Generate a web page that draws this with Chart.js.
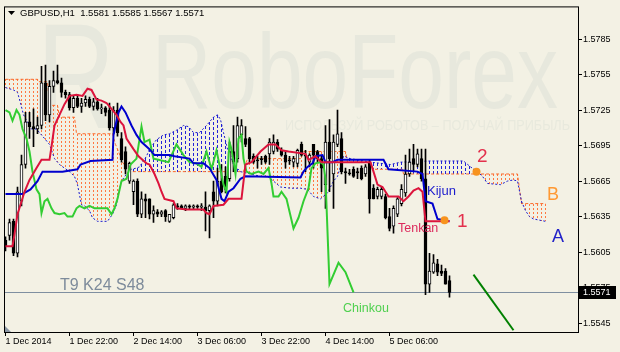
<!DOCTYPE html>
<html lang="ko">

<head>
  <meta charset="UTF-8">
  <title>GBPUSD H1 Ichimoku</title>
  <style>
    html,
    body {
      margin: 0;
      padding: 0;
      background: #f3f1e4;
    }

    #chartWrap {
      width: 620px;
      height: 352px;
    }
  </style>
</head>

<body>
  <div id="chartWrap">
    <canvas id="chartIchimoku" width="620" height="352"></canvas>
  </div>

  <script src="https://cdn.jsdelivr.net/npm/chart.js@4.4.1/dist/chart.umd.min.js"></script>
  <script>
    // 캔들 데이터 (GBPUSD, H1) - 봉 번호 0 ~ 111
    const opens = [
      1.5615, 1.5619, 1.5631, 1.5604, 1.5648, 1.5679, 1.5715, 1.5711, 1.5709, 1.5712,
      1.5748, 1.5721, 1.5745, 1.5750, 1.5748, 1.5740, 1.5738, 1.5727, 1.5735, 1.5728,
      1.5731, 1.5734, 1.5728, 1.5732, 1.5726, 1.5727, 1.5725, 1.5710, 1.5725, 1.5701,
      1.5690, 1.5665, 1.5656, 1.5665, 1.5637, 1.5650, 1.5650, 1.5637, 1.5639, 1.5637,
      1.5640, 1.5631, 1.5634, 1.5644, 1.5644, 1.5642, 1.5644, 1.5643, 1.5644, 1.5643,
      1.5643, 1.5640, 1.5656, 1.5648, 1.5665, 1.5669, 1.5667, 1.5690, 1.5684, 1.5704,
      1.5701, 1.5701, 1.5686, 1.5683, 1.5684, 1.5686, 1.5688, 1.5690, 1.5698, 1.5691,
      1.5687, 1.5683, 1.5681, 1.5680, 1.5696, 1.5687, 1.5681, 1.5696, 1.5690, 1.5684,
      1.5662, 1.5698, 1.5671, 1.5696, 1.5701, 1.5673, 1.5672, 1.5675, 1.5673, 1.5676,
      1.5671, 1.5681, 1.5659, 1.5652, 1.5652, 1.5652, 1.5635, 1.5627, 1.5637, 1.5646,
      1.5655, 1.5671, 1.5684, 1.5679, 1.5684, 1.5667, 1.5578, 1.5588, 1.5595, 1.5589,
      1.5589, 1.5581
    ];
    const highs = [
      1.5618, 1.5633, 1.5633, 1.5660, 1.5687, 1.5723, 1.5723, 1.5726, 1.5719, 1.5762,
      1.5763, 1.5750, 1.5758, 1.5763, 1.5752, 1.5742, 1.5740, 1.5737, 1.5738, 1.5735,
      1.5737, 1.5736, 1.5735, 1.5735, 1.5730, 1.5728, 1.5731, 1.5728, 1.5731, 1.5706,
      1.5694, 1.5681, 1.5666, 1.5667, 1.5656, 1.5654, 1.5650, 1.5644, 1.5641, 1.5640,
      1.5641, 1.5637, 1.5646, 1.5646, 1.5645, 1.5645, 1.5645, 1.5645, 1.5645, 1.5646,
      1.5656, 1.5645, 1.5665, 1.5676, 1.5679, 1.5677, 1.5698, 1.5712, 1.5719, 1.5717,
      1.5711, 1.5702, 1.5688, 1.5686, 1.5686, 1.5687, 1.5701, 1.5704, 1.5700, 1.5693,
      1.5690, 1.5686, 1.5686, 1.5692, 1.5698, 1.5691, 1.5688, 1.5696, 1.5691, 1.5687,
      1.5712, 1.5717, 1.5704, 1.5725, 1.5706, 1.5676, 1.5675, 1.5677, 1.5676, 1.5678,
      1.5679, 1.5683, 1.5662, 1.5660, 1.5660, 1.5654, 1.5642, 1.5644, 1.5651, 1.5662,
      1.5687, 1.5692, 1.5696, 1.5692, 1.5692, 1.5692, 1.5604, 1.5603, 1.5599, 1.5594,
      1.5591, 1.5585
    ];
    const lows = [
      1.5606, 1.5615, 1.5602, 1.5601, 1.5644, 1.5676, 1.5701, 1.5694, 1.5705, 1.5709,
      1.5716, 1.5715, 1.5740, 1.5747, 1.5736, 1.5735, 1.5725, 1.5723, 1.5727, 1.5723,
      1.5728, 1.5727, 1.5725, 1.5725, 1.5722, 1.5720, 1.5708, 1.5705, 1.5703, 1.5681,
      1.5671, 1.5663, 1.5645, 1.5635, 1.5634, 1.5634, 1.5633, 1.5630, 1.5635, 1.5635,
      1.5631, 1.5630, 1.5633, 1.5641, 1.5642, 1.5640, 1.5641, 1.5641, 1.5642, 1.5640,
      1.5623, 1.5617, 1.5634, 1.5644, 1.5655, 1.5655, 1.5665, 1.5673, 1.5681, 1.5698,
      1.5694, 1.5681, 1.5680, 1.5676, 1.5679, 1.5680, 1.5679, 1.5688, 1.5690, 1.5686,
      1.5676, 1.5679, 1.5677, 1.5677, 1.5686, 1.5673, 1.5677, 1.5676, 1.5681, 1.5656,
      1.5642, 1.5656, 1.5642, 1.5694, 1.5671, 1.5663, 1.5670, 1.5668, 1.5667, 1.5666,
      1.5669, 1.5638, 1.5650, 1.5650, 1.5650, 1.5633, 1.5623, 1.5621, 1.5635, 1.5644,
      1.5652, 1.5669, 1.5673, 1.5677, 1.5665, 1.5569, 1.5571, 1.5587, 1.5585, 1.5585,
      1.5578, 1.5567
    ];
    const closes = [
      1.5610, 1.5630, 1.5604, 1.5656, 1.5679, 1.5715, 1.5711, 1.5709, 1.5712, 1.5748,
      1.5721, 1.5745, 1.5750, 1.5748, 1.5740, 1.5738, 1.5727, 1.5735, 1.5728, 1.5731,
      1.5734, 1.5728, 1.5732, 1.5726, 1.5727, 1.5723, 1.5710, 1.5725, 1.5706, 1.5683,
      1.5675, 1.5680, 1.5665, 1.5637, 1.5650, 1.5648, 1.5637, 1.5640, 1.5637, 1.5639,
      1.5635, 1.5637, 1.5645, 1.5643, 1.5642, 1.5644, 1.5643, 1.5644, 1.5643, 1.5644,
      1.5640, 1.5644, 1.5648, 1.5665, 1.5656, 1.5658, 1.5690, 1.5681, 1.5712, 1.5712,
      1.5696, 1.5684, 1.5681, 1.5682, 1.5683, 1.5681, 1.5698, 1.5698, 1.5692, 1.5687,
      1.5681, 1.5682, 1.5684, 1.5691, 1.5687, 1.5686, 1.5687, 1.5687, 1.5684, 1.5676,
      1.5698, 1.5684, 1.5698, 1.5705, 1.5673, 1.5672, 1.5671, 1.5669, 1.5672, 1.5667,
      1.5677, 1.5650, 1.5650, 1.5658, 1.5658, 1.5634, 1.5625, 1.5642, 1.5650, 1.5658,
      1.5671, 1.5681, 1.5679, 1.5688, 1.5667, 1.5578, 1.5589, 1.5596, 1.5588, 1.5587,
      1.5578, 1.5571
    ];

    // 텐칸선 (x: 봉 번호, y: 가격)
    const tenkanX = [0, 1.75, 2.25, 3, 4.75, 6, 7.75, 9, 11, 11.5, 12.25, 13.5, 14.75, 16, 17.75, 19.25, 20.5, 21.5, 22.75, 24,
      25.25, 26.5, 27.75, 28.75, 29.5, 30.25, 32, 33.25, 35.25, 36, 37.25, 38.25, 39, 39.75, 42, 42.75, 45.25, 49.5, 50.25, 51,
      52, 54.5, 55.75, 59, 60, 61.5, 63.75, 65.75, 66.5, 67.5, 69, 70.75, 75, 75.75, 77.5, 79, 91.25, 92, 93, 94.25,
      95.75, 98.25, 99.5, 100.75, 102, 103.25, 104.25, 105, 111];
    const tenkanY = [1.5610, 1.5610, 1.5620, 1.5637, 1.5656, 1.5666, 1.5676, 1.5683, 1.5683, 1.5694, 1.5712, 1.5721, 1.5730, 1.5737, 1.5738, 1.5737, 1.5743, 1.5742, 1.5734, 1.5733,
      1.5731, 1.5726, 1.5721, 1.5715, 1.5712, 1.5701, 1.5692, 1.5686, 1.5680, 1.5679, 1.5671, 1.5663, 1.5656, 1.5650, 1.5648, 1.5642, 1.5641, 1.5641, 1.5638, 1.5637,
      1.5644, 1.5645, 1.5650, 1.5650, 1.5679, 1.5681, 1.5690, 1.5696, 1.5696, 1.5696, 1.5691, 1.5690, 1.5688, 1.5683, 1.5686, 1.5681, 1.5681, 1.5673, 1.5662, 1.5660,
      1.5652, 1.5652, 1.5648, 1.5652, 1.5657, 1.5659, 1.5656, 1.5631, 1.5631];

    // 기준선
    const kijunX = [0, 4.25, 6.25, 8, 9.25, 14.25, 18, 18.75, 21.25, 26.75, 27, 27.5, 28.25, 29, 30, 31.5, 32.75, 34, 36, 37.25,
      41, 42.25, 46, 47, 49.5, 51, 52.75, 54, 54.75, 55.75, 57, 58.75, 60, 73.75, 74.5, 75.5, 76.75, 77.5, 79.25, 80,
      81.75, 83, 94.5, 95.75, 103, 104.25, 105, 106.75, 108, 111];
    const kijunY = [1.5654, 1.5654, 1.5658, 1.5665, 1.5673, 1.5673, 1.5675, 1.5679, 1.5682, 1.5683, 1.5704, 1.5712, 1.5723, 1.5728, 1.5723, 1.5712, 1.5704, 1.5698, 1.5692, 1.5687,
      1.5687, 1.5686, 1.5684, 1.5680, 1.5680, 1.5676, 1.5666, 1.5650, 1.5648, 1.5656, 1.5659, 1.5667, 1.5669, 1.5668, 1.5673, 1.5677, 1.5680, 1.5686, 1.5687, 1.5681,
      1.5681, 1.5683, 1.5683, 1.5675, 1.5673, 1.5671, 1.5648, 1.5646, 1.5633, 1.5631];

    // 치코우 스팬
    const chinkouX = [0, 1, 1.75, 2.75, 3.5, 4.25, 5.25, 6, 6.75, 7.75, 8.5, 9, 9.75, 10.5, 11.5, 12.25, 13.5, 14.75, 15.5, 16.75,
      17.75, 18.5, 19.75, 21, 22.25, 24.75, 25.5, 26.5, 27.25, 28, 29, 30.25, 31.25, 32.75, 34, 34.75, 36, 37, 38.25, 40.75,
      42.75, 44.5, 46, 47.75, 49, 50.25, 51.5, 52.75, 54.5, 55.25, 56, 56.5, 57.5, 58.25, 59, 59.5, 60.25, 61.5, 63.25, 64.5,
      65.75, 66.5, 67, 68.25, 69, 70.25, 72, 73.25, 74.5, 75.75, 76.5, 77.5, 78.75, 79.5, 80, 81, 83.25, 85, 87];
    const chinkouY = [1.5725, 1.5723, 1.5716, 1.5725, 1.5721, 1.5709, 1.5701, 1.5690, 1.5673, 1.5658, 1.5654, 1.5638, 1.5648, 1.5650, 1.5642, 1.5638, 1.5637, 1.5638, 1.5635, 1.5635,
      1.5642, 1.5644, 1.5642, 1.5644, 1.5642, 1.5642, 1.5642, 1.5637, 1.5642, 1.5650, 1.5665, 1.5667, 1.5679, 1.5684, 1.5711, 1.5698, 1.5700, 1.5684, 1.5683, 1.5681,
      1.5696, 1.5687, 1.5681, 1.5680, 1.5677, 1.5690, 1.5675, 1.5691, 1.5662, 1.5656, 1.5698, 1.5692, 1.5671, 1.5701, 1.5704, 1.5684, 1.5673, 1.5671, 1.5673, 1.5671,
      1.5676, 1.5663, 1.5652, 1.5652, 1.5656, 1.5650, 1.5625, 1.5634, 1.5648, 1.5659, 1.5676, 1.5680, 1.5681, 1.5679, 1.5667, 1.5578, 1.5596, 1.5588, 1.5571];

    // 선행스팬 A / B (24봉 앞으로 이동된 값)
    const spanAX = [0, 2, 3, 3.75, 4.5, 5.5, 6.5, 7.75, 8.5, 9.75, 11, 12.25, 13.5, 14.75, 16, 17.25, 18, 19, 19.75, 21,
      21.75, 23, 25.5, 26.75, 27.75, 28.25, 29, 30.25, 31.5, 32.75, 33.5, 35.25, 36, 37.75, 39.5, 41, 42.75, 44.5, 45.75, 47,
      48.5, 50.25, 52, 53, 53.75, 54.5, 55.5, 56.25, 57, 58.75, 61.25, 63.75, 65.5, 67, 68.75, 71.25, 73.75, 75.5, 77, 78.75,
      80.5, 82, 83, 84.5, 86.25, 91.25, 96.25, 98.75, 106.25, 114.5, 116.25, 118, 119.25, 120.5, 123.75, 125.5, 127, 128, 129, 130,
      131, 132, 135];
    const spanAY = [1.5744, 1.5742, 1.5740, 1.5731, 1.5721, 1.5715, 1.5709, 1.5709, 1.5706, 1.5701, 1.5696, 1.5684, 1.5679, 1.5676, 1.5673, 1.5669, 1.5662, 1.5645, 1.5644, 1.5640,
      1.5634, 1.5631, 1.5631, 1.5637, 1.5645, 1.5655, 1.5665, 1.5671, 1.5675, 1.5676, 1.5677, 1.5686, 1.5692, 1.5700, 1.5704, 1.5705, 1.5708, 1.5712, 1.5711, 1.5706,
      1.5706, 1.5712, 1.5719, 1.5721, 1.5717, 1.5706, 1.5692, 1.5687, 1.5679, 1.5673, 1.5671, 1.5669, 1.5669, 1.5665, 1.5660, 1.5659, 1.5659, 1.5658, 1.5652, 1.5650,
      1.5655, 1.5665, 1.5669, 1.5686, 1.5684, 1.5681, 1.5679, 1.5681, 1.5682, 1.5682, 1.5677, 1.5673, 1.5669, 1.5663, 1.5662, 1.5665, 1.5666, 1.5665, 1.5648, 1.5640,
      1.5635, 1.5633, 1.5631];
    const spanBX = [0, 8, 8.25, 10.5, 11, 13, 13.5, 17.25, 17.75, 26.75, 27.5, 28.25, 29.25, 30.25, 31.25, 59.5, 60.5, 73.75, 74.5, 85,
      85.5, 91.25, 92, 99.25, 99.5, 128, 129, 135];
    const spanBY = [1.5751, 1.5751, 1.5749, 1.5749, 1.5729, 1.5729, 1.5719, 1.5719, 1.5705, 1.5705, 1.5696, 1.5690, 1.5681, 1.5676, 1.5673, 1.5673, 1.5684, 1.5684, 1.5690, 1.5690,
      1.5681, 1.5681, 1.5675, 1.5675, 1.5671, 1.5671, 1.5646, 1.5646];

    // 교차 표시점 (1, 2) 및 예상 하락선
    const crossX = [109.75, 117.75];
    const crossY = [1.5632, 1.5673];
    const forecastX = [117, 127];
    const forecastY = [1.5586, 1.5539];

    // 축 눈금
    const yTicks = [1.5545, 1.5575, 1.5605, 1.5635, 1.5665, 1.5695, 1.5725, 1.5755, 1.5785];
    const xTicks = [0, 16, 32, 48, 64, 80, 96];
    const xTickLabels = ['1 Dec 2014', '1 Dec 22:00', '2 Dec 14:00', '3 Dec 06:00', '3 Dec 22:00', '4 Dec 14:00', '5 Dec 06:00'];
    const cloudBars = 136;

    const toPoints = (xs, ys) => xs.map((x, i) => ({ x: x, y: ys[i] }));
    const last = closes.length - 1;
    const font = 'Liberation Sans';

    // 선 위의 값 (봉 위치에서)
    function valueAt(xs, ys, x) {
      for (let i = 1; i < xs.length; i++) {
        if (x <= xs[i]) {
          const t = (x - xs[i - 1]) / (xs[i] - xs[i - 1]);
          return ys[i - 1] + t * (ys[i] - ys[i - 1]);
        }
      }
      return ys[ys.length - 1];
    }

    // 구름대 - MT4 처럼 봉마다 점선 세로줄
    const kumoHatch = {
      id: 'kumoHatch',
      beforeDatasetsDraw(chart) {
        const { ctx, chartArea: a, scales } = chart;
        ctx.save();
        ctx.beginPath();
        ctx.rect(a.left, a.top, a.right - a.left, a.bottom - a.top);
        ctx.clip();
        ctx.lineWidth = 1;
        for (let k = 0; k < cloudBars; k++) {
          const va = valueAt(spanAX, spanAY, k);
          const vb = valueAt(spanBX, spanBY, k);
          const px = Math.floor(scales.x.getPixelForValue(k)) + 0.5;
          const ya = Math.round(scales.y.getPixelForValue(va));
          const yb = Math.round(scales.y.getPixelForValue(vb));
          if (va > vb) {
            ctx.strokeStyle = '#2222d8';
            ctx.setLineDash([3, 2]);
          } else {
            ctx.strokeStyle = '#ff7840';
            ctx.setLineDash([2, 2]);
          }
          ctx.beginPath();
          ctx.moveTo(px, Math.min(ya, yb));
          ctx.lineTo(px, Math.max(ya, yb));
          ctx.stroke();
        }
        ctx.restore();

        // 현재가 수평선
        const py = Math.round(scales.y.getPixelForValue(closes[last])) + 0.5;
        ctx.save();
        ctx.strokeStyle = '#7f8fa0';
        ctx.lineWidth = 1;
        ctx.beginPath();
        ctx.moveTo(a.left, py);
        ctx.lineTo(a.right, py);
        ctx.stroke();
        ctx.restore();
      }
    };

    // 배경, 워터마크, 텍스트 표시
    const mt4Deco = {
      id: 'mt4Deco',
      beforeDraw(chart) {
        const { ctx, chartArea: a } = chart;
        ctx.save();
        ctx.fillStyle = '#f3f1e4';
        ctx.fillRect(0, 0, chart.width, chart.height);
        ctx.beginPath();
        ctx.rect(a.left, a.top, a.right - a.left, a.bottom - a.top);
        ctx.clip();
        ctx.fillStyle = '#e7e8dd';
        ctx.font = '150px "' + font + '"';
        ctx.fillText('R', 37, 128, 78);
        ctx.font = '105px "' + font + '"';
        ctx.fillText('RoboForex', 152, 108, 406);
        ctx.fillStyle = '#e8e9dd';
        ctx.font = '15px "' + font + '"';
        ctx.fillText('ИСПОЛЬЗУЙ РОБОТОВ – ПОЛУЧАЙ ПРИБЫЛЬ', 285, 130, 285);
        ctx.restore();
      },
      afterDraw(chart) {
        const { ctx, chartArea: a, scales } = chart;
        ctx.save();
        // 테두리
        ctx.strokeStyle = '#000';
        ctx.lineWidth = 1;
        ctx.strokeRect(a.left + 0.5, a.top + 0.5, a.right - a.left, a.bottom - a.top);

        // 좌하단 삼각형
        ctx.fillStyle = '#8a96a3';
        ctx.beginPath();
        ctx.moveTo(a.left + 1, a.bottom - 6);
        ctx.lineTo(a.left + 1, a.bottom);
        ctx.lineTo(a.left + 7, a.bottom);
        ctx.closePath();
        ctx.fill();

        // 상단 심볼 정보
        ctx.fillStyle = '#000';
        ctx.beginPath();
        ctx.moveTo(8, 11);
        ctx.lineTo(15, 11);
        ctx.lineTo(11.5, 15);
        ctx.closePath();
        ctx.fill();
        ctx.font = '9.5px "' + font + '"';
        ctx.textBaseline = 'alphabetic';
        ctx.fillText('GBPUSD,H1  ' + opens[last].toFixed(4) + ' ' + highs[last].toFixed(4) + ' ' +
          lows[last].toFixed(4) + ' ' + closes[last].toFixed(4), 20, 16);

        // 주석 텍스트
        const label = (text, x, y, size, color) => {
          ctx.font = size + 'px "' + font + '"';
          ctx.fillStyle = color;
          ctx.fillText(text, x, y);
        };
        label('T9 K24 S48', 60, 290, 16, '#7d8b9b');
        label('Chinkou', 343, 312, 12.5, '#4fd04f');
        label('Kijun', 427, 195, 13, '#1a1acd');
        label('Tenkan', 398, 232, 12.5, '#dc2a5c');
        label('1', 457, 227, 19, '#e3304c');
        label('2', 477, 162, 19, '#e3304c');
        label('B', 547, 200, 18, '#ff9933');
        label('A', 552, 242, 18, '#2323c8');

        // 현재가 라벨
        const py = Math.round(scales.y.getPixelForValue(closes[last]));
        ctx.fillStyle = '#000';
        ctx.fillRect(a.right + 1, py - 6, 37, 13);
        ctx.fillStyle = '#fff';
        ctx.font = '9px "' + font + '"';
        ctx.textBaseline = 'middle';
        ctx.fillText(closes[last].toFixed(4), a.right + 5, py + 0.5);
        ctx.restore();
      }
    };

    new Chart(document.getElementById('chartIchimoku'), {
      type: 'line',
      plugins: [mt4Deco, kumoHatch],
      data: {
        datasets: [
          {
            // 선행스팬 A
            data: toPoints(spanAX, spanAY),
            borderColor: '#1a1acd',
            borderWidth: 1,
            borderDash: [2, 2],
            pointRadius: 0,
            tension: 0,
            fill: false,
            order: 10
          },
          {
            // 선행스팬 B
            data: toPoints(spanBX, spanBY),
            borderColor: '#fb6a2a',
            borderWidth: 1,
            borderDash: [3, 2],
            pointRadius: 0,
            tension: 0,
            fill: false,
            order: 11
          },
          {
            // 캔들 꼬리
            type: 'bar',
            data: opens.map((o, i) => ({ x: i, y: [lows[i], highs[i]] })),
            backgroundColor: '#000',
            borderWidth: 0,
            barThickness: 1,
            grouped: false,
            order: 6
          },
          {
            // 캔들 몸통
            type: 'bar',
            data: opens.map((o, i) => ({ x: i, y: [Math.min(o, closes[i]), Math.max(o, closes[i])] })),
            backgroundColor: opens.map((o, i) => closes[i] >= o ? '#ffffff' : '#000000'),
            borderColor: '#000',
            borderWidth: 1,
            borderSkipped: false,
            minBarLength: 1,
            barThickness: 3,
            grouped: false,
            order: 5
          },
          {
            data: toPoints(chinkouX, chinkouY),
            borderColor: '#32cd32',
            borderWidth: 2,
            pointRadius: 0,
            tension: 0,
            fill: false,
            order: 4
          },
          {
            data: toPoints(kijunX, kijunY),
            borderColor: '#0000cd',
            borderWidth: 2,
            pointRadius: 0,
            tension: 0,
            fill: false,
            order: 3
          },
          {
            data: toPoints(tenkanX, tenkanY),
            borderColor: '#dc143c',
            borderWidth: 2,
            pointRadius: 0,
            tension: 0,
            fill: false,
            order: 2
          },
          {
            data: toPoints(forecastX, forecastY),
            borderColor: '#008000',
            borderWidth: 2,
            pointRadius: 0,
            tension: 0,
            fill: false,
            order: 1
          },
          {
            data: toPoints(crossX, crossY),
            showLine: false,
            pointRadius: 4,
            pointBackgroundColor: '#f7931e',
            pointBorderColor: '#f7931e',
            pointBorderWidth: 0,
            order: 0
          }
        ]
      },
      options: {
        responsive: false,
        devicePixelRatio: 1,
        animation: false,
        events: [],
        layout: {
          padding: { left: 4, top: 3, right: 0, bottom: 0 }
        },
        plugins: {
          legend: { display: false },
          tooltip: { enabled: false }
        },
        scales: {
          x: {
            type: 'linear',
            position: 'bottom',
            offset: false,
            min: -0.375,
            max: 143.125,
            afterFit: (scale) => { scale.height = 20; },
            afterBuildTicks: (axis) => { axis.ticks = xTicks.map(v => ({ value: v })); },
            border: { display: false },
            grid: {
              display: true,
              drawOnChartArea: false,
              drawTicks: true,
              tickLength: 4,
              tickColor: '#000',
              color: '#000',
              offset: false
            },
            ticks: {
              autoSkip: false,
              maxRotation: 0,
              minRotation: 0,
              align: 'start',
              padding: 0,
              color: '#000',
              font: { family: font, size: 9 },
              callback: (v) => xTickLabels[xTicks.indexOf(v)]
            }
          },
          y: {
            type: 'linear',
            position: 'right',
            min: 1.55375,
            max: 1.58126,
            afterFit: (scale) => { scale.width = 42; },
            afterBuildTicks: (axis) => { axis.ticks = yTicks.map(v => ({ value: v })); },
            border: { display: false },
            grid: {
              display: true,
              drawOnChartArea: false,
              drawTicks: true,
              tickLength: 4,
              tickColor: '#000',
              color: '#000'
            },
            ticks: {
              padding: 1,
              color: '#000',
              font: { family: font, size: 9 },
              callback: (v) => v.toFixed(4)
            }
          }
        }
      }
    });
  </script>
</body>

</html>
